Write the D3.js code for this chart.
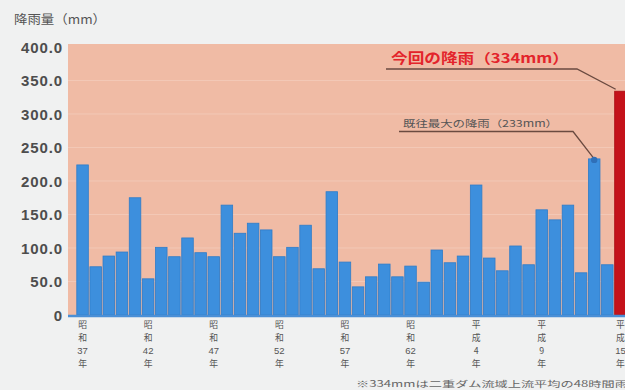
<!DOCTYPE html>
<html><head><meta charset="utf-8">
<script src="https://cdn.jsdelivr.net/npm/d3@7"></script>
<style>
html,body{margin:0;padding:0;background:#f0f1f1;}
svg{display:block;}
</style></head>
<body>
<svg id="c" width="625" height="390"></svg>
<script>
// Data
const years = ["昭和37年","昭和38年","昭和39年","昭和40年","昭和41年","昭和42年","昭和43年","昭和44年","昭和45年","昭和46年",
  "昭和47年","昭和48年","昭和49年","昭和50年","昭和51年","昭和52年","昭和53年","昭和54年","昭和55年","昭和56年",
  "昭和57年","昭和58年","昭和59年","昭和60年","昭和61年","昭和62年","昭和63年","平成元年","平成2年","平成3年",
  "平成4年","平成5年","平成6年","平成7年","平成8年","平成9年","平成10年","平成11年","平成12年","平成13年",
  "平成14年","平成15年"];
const rainfall = [224,72,88,94,175,54,101,87,115,93,
  87,164,122,137,127,87,101,134,69,184,
  79,42,57,76,57,73,49,97,78,88,
  194,85,66,103,75,157,142,164,63,233,
  75,334];
const labelYears = ["昭和37年","昭和42年","昭和47年","昭和52年","昭和57年","昭和62年","平成4年","平成9年","平成15年"];
const yTicks = [0,50,100,150,200,250,300,350,400];
const currentLabel = "今回の降雨（334mm）";
const maxLabel = "既往最大の降雨（233mm）";
const yTitle = "降雨量（mm）";
const footnote = "※334mmは二重ダム流域上流平均の48時間雨量";

const svg = d3.select("#c");
const plotL = 68, plotR = 625, plotT = 44, plotB = 315;
const jp = "'Noto Sans CJK JP','Noto Sans',sans-serif";

const x = d3.scaleBand().domain(years).range([76, 627]).paddingInner(0.12).paddingOuter(0.06);
const y = d3.scaleLinear().domain([0, 400]).range([plotB, 47]);

// plot background
svg.append("rect").attr("x", plotL).attr("y", plotT).attr("width", plotR - plotL).attr("height", plotB - plotT)
  .attr("fill", "#f0bba5");

// faint gridlines
svg.append("g").selectAll("line").data(yTicks.filter(d => d > 0 && d < 400)).join("line")
  .attr("x1", plotL).attr("x2", plotR).attr("y1", d => y(d)).attr("y2", d => y(d))
  .attr("stroke", "#f6d2c2").attr("stroke-width", 1).attr("opacity", 0.6);

// y axis labels
const yAxis = d3.axisLeft(y).tickValues(yTicks).tickSize(0).tickPadding(0)
  .tickFormat(d => d === 0 ? "0" : d3.format(".1f")(d));
const ya = svg.append("g").attr("transform", `translate(63,0)`).call(yAxis);
ya.select(".domain").remove();
ya.selectAll("text").attr("fill", "#4d4d4d").attr("font-size", 15).attr("font-weight", "bold")
  .attr("font-family", "'Liberation Sans',Arial,sans-serif").attr("letter-spacing", "0.9").attr("dy", "0.36em");

// y title
svg.append("text").attr("x", 14).attr("y", 24).text(yTitle)
  .attr("font-family", jp).attr("font-size", 12.5).attr("fill", "#555")
  .attr("textLength", 92).attr("lengthAdjust", "spacingAndGlyphs");

// bars
svg.append("g").selectAll("rect").data(rainfall).join("rect")
  .attr("x", (d, i) => x(years[i]))
  .attr("y", d => y(d))
  .attr("width", x.bandwidth())
  .attr("height", d => y(0) - y(d))
  .attr("fill", (d, i) => i === rainfall.length - 1 ? "#c4121a" : "#3d8fdd")
  .attr("stroke", (d, i) => i === rainfall.length - 1 ? "#a80e14" : "#2f7cc8")
  .attr("stroke-width", 0.8);

// baseline
svg.append("line").attr("x1", plotL).attr("x2", plotR).attr("y1", plotB + 1).attr("y2", plotB + 1)
  .attr("stroke", "#4a8fd6").attr("stroke-width", 2.5);

// x labels (vertical stacked)
function splitLabel(s) {
  const m = s.match(/^(..)(.+)(年)$/);
  return [m[1][0], m[1][1], m[2], m[3]];
}
const xl = svg.append("g");
labelYears.forEach(lbl => {
  const cx = x(lbl) + x.bandwidth() / 2;
  const parts = splitLabel(lbl);
  const t = xl.append("text").attr("x", cx).attr("y", 328).attr("text-anchor", "middle")
    .attr("fill", "#555");
  parts.forEach((p, k) => {
    t.append("tspan").attr("x", cx).attr("dy", k === 0 ? 0 : 13)
      .attr("font-family", p.length > 1 ? "'Liberation Sans',Arial,sans-serif" : jp)
      .attr("font-size", p.length > 1 ? 9.5 : 8.8).text(p);
  });
});

// annotation: current rain
const lastI = rainfall.length - 1;
const cTopX = x(years[lastI]) + 1, cTopY = y(rainfall[lastI]);
svg.append("text").attr("x", 391).attr("y", 63).text(currentLabel)
  .attr("font-family", jp).attr("font-size", 13.5).attr("font-weight", "bold").attr("fill", "#e3242b")
  .attr("textLength", 178).attr("lengthAdjust", "spacingAndGlyphs");
svg.append("polyline")
  .attr("points", `386,69 577,69 ${cTopX},${cTopY - 2}`)
  .attr("fill", "none").attr("stroke", "#6a4a40").attr("stroke-width", 1.3);

// annotation: previous max
const mI = rainfall.indexOf(233);
const mX = x(years[mI]) + x.bandwidth() / 2, mY = y(rainfall[mI]);
svg.append("text").attr("x", 403).attr("y", 127).text(maxLabel)
  .attr("font-family", jp).attr("font-size", 9.5).attr("fill", "#555")
  .attr("textLength", 155).attr("lengthAdjust", "spacingAndGlyphs");
svg.append("polyline")
  .attr("points", `399,131.5 573,131.5 ${mX},${mY}`)
  .attr("fill", "none").attr("stroke", "#6a4a40").attr("stroke-width", 1.3);
svg.append("circle").attr("cx", mX).attr("cy", mY + 1).attr("r", 3.2).attr("fill", "#2f6fb8");

// footnote
svg.append("text").attr("x", 356).attr("y", 387).text(footnote)
  .attr("font-family", jp).attr("font-size", 8.5).attr("fill", "#666")
  .attr("textLength", 285).attr("lengthAdjust", "spacingAndGlyphs");
</script>
</body></html>
